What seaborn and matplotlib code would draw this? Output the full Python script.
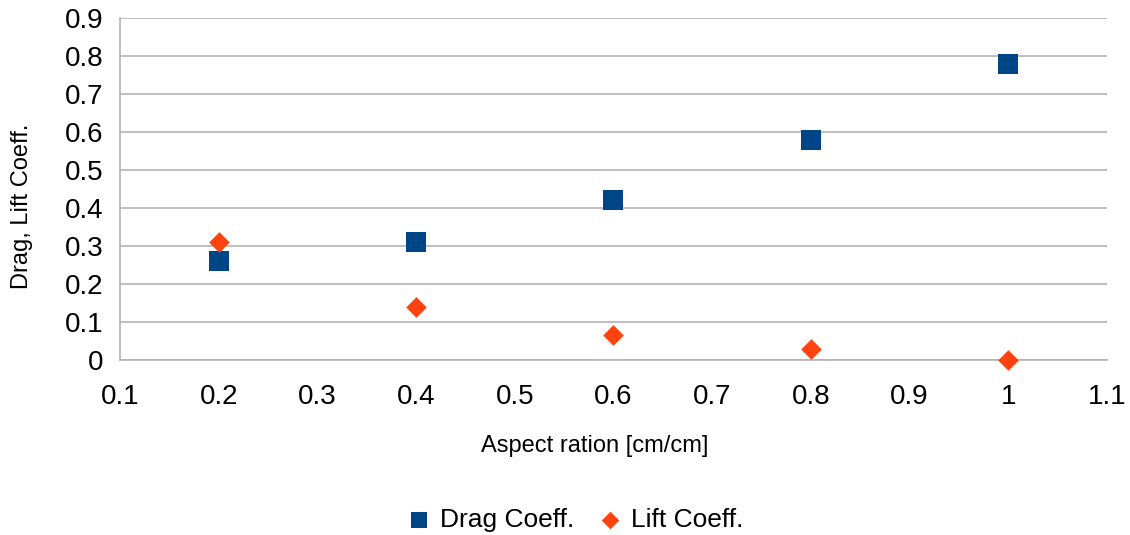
import matplotlib
matplotlib.use("Agg")
import matplotlib.pyplot as plt
import seaborn as sns
import pandas as pd

aspect_ratio = [0.2, 0.4, 0.6, 0.8, 1.0]
drag_coeff = [0.26, 0.31, 0.42, 0.58, 0.78]
lift_coeff = [0.31, 0.14, 0.066, 0.028, 0.0]
series_names = ["Drag Coeff.", "Lift Coeff."]
x_ticks = [0.1, 0.2, 0.3, 0.4, 0.5, 0.6, 0.7, 0.8, 0.9, 1.0, 1.1]
x_tick_labels = ["0.1", "0.2", "0.3", "0.4", "0.5", "0.6", "0.7", "0.8", "0.9", "1", "1.1"]
y_ticks = [0, 0.1, 0.2, 0.3, 0.4, 0.5, 0.6, 0.7, 0.8, 0.9]
y_tick_labels = ["0", "0.1", "0.2", "0.3", "0.4", "0.5", "0.6", "0.7", "0.8", "0.9"]

df = pd.DataFrame({
    "x": aspect_ratio * 2,
    "y": drag_coeff + lift_coeff,
    "series": [series_names[0]] * len(aspect_ratio) + [series_names[1]] * len(aspect_ratio),
})

sns.set_theme(style="white")
plt.rcParams["font.family"] = ["Liberation Sans", "DejaVu Sans"]
plt.rcParams["text.color"] = "black"
plt.rcParams["axes.labelcolor"] = "black"

fig = plt.figure(figsize=(11.3, 5.35), dpi=100)
ax = fig.add_axes([120 / 1130, 1 - 360 / 535, (1107 - 120) / 1130, (360 - 18) / 535])

palette = {series_names[0]: "#004586", series_names[1]: "#ff420e"}
markers = {series_names[0]: "s", series_names[1]: "D"}
sizes_map = {series_names[0]: 200, series_names[1]: 110}

for name in series_names:
    sub = df[df["series"] == name]
    sns.scatterplot(data=sub, x="x", y="y", ax=ax, color=palette[name],
                    marker=markers[name], s=sizes_map[name], linewidth=0,
                    label=name, zorder=3, clip_on=False)

ax.set_xlim(0.1, 1.1)
ax.set_ylim(0, 0.9)
ax.set_xticks(x_ticks)
ax.set_xticklabels(x_tick_labels)
ax.set_yticks(y_ticks)
ax.set_yticklabels(y_tick_labels)
ax.yaxis.grid(True, color="#b3b3b3", linewidth=1.2)
ax.xaxis.grid(False)
for s in ["top", "right"]:
    ax.spines[s].set_visible(False)
for s in ["left", "bottom"]:
    ax.spines[s].set_color("#b3b3b3")
    ax.spines[s].set_linewidth(1.2)
ax.tick_params(axis="both", which="both", direction="out", length=7.2, width=1.2,
               color="#b3b3b3", labelsize=20, labelcolor="black")
ax.tick_params(axis="x", pad=10)
ax.tick_params(axis="y", pad=5)
ax.set_xlabel("Aspect ration [cm/cm]", fontsize=17)
ax.set_ylabel("Drag, Lift Coeff.", fontsize=17)
ax.xaxis.set_label_coords((595 - 120) / 987, (360 - 446) / 342)
ax.xaxis.label.set_va("center")
ax.yaxis.set_label_coords((22 - 120) / 987, (360 - 206) / 342)
ax.yaxis.label.set_va("center")

handles, labels = ax.get_legend_handles_labels()
ax.legend(handles, labels, loc="center", bbox_to_anchor=(575 / 1130, (535 - 520) / 535),
          bbox_transform=fig.transFigure, ncol=2, frameon=False, fontsize=19,
          handlelength=0.9, handletextpad=0.35, columnspacing=0.9, markerscale=0.85,
          labelcolor="black")

fig.savefig("out.png", dpi=100)
